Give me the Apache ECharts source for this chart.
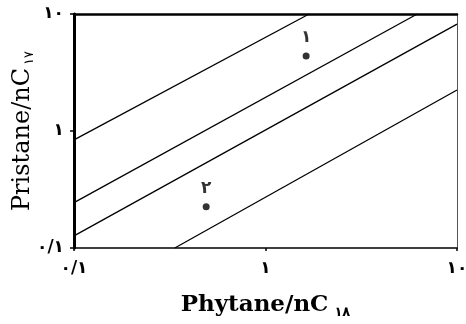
<!DOCTYPE html>
<html>
<head>
<meta charset="utf-8">
<script src="https://cdn.jsdelivr.net/npm/echarts@6/dist/echarts.min.js"></script>
<style>
  html, body { margin: 0; padding: 0; background: #fff; }
  #main { width: 466px; height: 324px; }
</style>
</head>
<body>
<div id="main"></div>
<script>
// valores (escala log nos dois eixos)
var tickValues = [0.1, 1, 10];
var tickLabels = ['۰/۱', '۱', '۱۰'];

// cada linha tem dois pontos: inicio e fim
var lineA = [[0.1, 0.84], [1.69, 10]];
var lineB = [[0.1, 0.244], [6.2, 10]];
var lineC = [[0.1, 0.127], [10, 8.2]];
var lineD = [[0.336, 0.1], [10, 2.24]];

var sampleNames = ['۱', '۲'];
var samplePoints = [[1.63, 4.38], [0.49, 0.225]];

var xTitle = 'Phytane/nC';
var xTitleSub = '۱۸';
var yTitle = 'Pristane/nC';
var yTitleSub = '۱۷';

function tickFormatter(v) {
  for (var i = 0; i < tickValues.length; i++) {
    if (Math.abs(v - tickValues[i]) < 1e-9) return tickLabels[i];
  }
  return '';
}

var xTitleRich = {
  a: { fontFamily: 'DejaVu Serif', fontWeight: 'bold', fontSize: 23, color: '#000' },
  b: { fontFamily: 'DejaVu Sans', fontWeight: 'bold', fontSize: 13, color: '#000', padding: [14, 0, 0, 6] }
};
var yTitleRich = {
  a: { fontFamily: 'DejaVu Serif', fontSize: 24, color: '#000' },
  b: { fontFamily: 'DejaVu Sans', fontSize: 13, color: '#000', padding: [14, 0, 0, 3] }
};

var labelStyle = {
  formatter: tickFormatter,
  color: '#000',
  fontFamily: 'DejaVu Sans',
  fontWeight: 'bold',
  fontSize: 17
};

function lineSeries(data) {
  return {
    type: 'line',
    data: data,
    symbol: 'none',
    lineStyle: { color: '#000', width: 1.3 },
    silent: true
  };
}

var myChart = echarts.init(document.getElementById('main'));

myChart.setOption({
  animation: false,
  grid: {
    left: 74,
    right: 9,
    top: 14,
    bottom: 76,
    outerBoundsMode: 'none'
  },
  xAxis: [
    {
      type: 'log',
      logBase: 10,
      min: 0.1,
      max: 10,
      position: 'bottom',
      name: '{a|' + xTitle + '}{b|' + xTitleSub + '}',
      nameLocation: 'middle',
      nameGap: 44,
      nameMoveOverlap: false,
      nameTextStyle: { rich: xTitleRich },
      axisLine: { lineStyle: { color: '#000', width: 1.5 } },
      axisTick: { show: true, length: 3, lineStyle: { color: '#000', width: 1.5 } },
      minorTick: { show: false },
      splitLine: { show: false },
      axisLabel: Object.assign({ margin: 12 }, labelStyle)
    },
    {
      // borda de cima
      type: 'log',
      min: 0.1,
      max: 10,
      position: 'top',
      axisLine: { lineStyle: { color: '#000', width: 2.5 } },
      axisTick: { show: false },
      axisLabel: { show: false },
      splitLine: { show: false }
    }
  ],
  yAxis: [
    {
      type: 'log',
      logBase: 10,
      min: 0.1,
      max: 10,
      position: 'left',
      name: '{a|' + yTitle + '}{b|' + yTitleSub + '}',
      nameLocation: 'middle',
      nameGap: 38,
      nameMoveOverlap: false,
      nameRotate: 90,
      nameTextStyle: { rich: yTitleRich },
      axisLine: { lineStyle: { color: '#000', width: 3 } },
      axisTick: { show: true, length: 4, lineStyle: { color: '#000', width: 1.5 } },
      splitLine: { show: false },
      axisLabel: Object.assign({ margin: 10 }, labelStyle)
    },
    {
      // borda da direita
      type: 'log',
      min: 0.1,
      max: 10,
      position: 'right',
      axisLine: { lineStyle: { color: '#555', width: 1 } },
      axisTick: { show: false },
      axisLabel: { show: false },
      splitLine: { show: false }
    }
  ],
  series: [
    lineSeries(lineA),
    lineSeries(lineB),
    lineSeries(lineC),
    lineSeries(lineD),
    {
      type: 'scatter',
      data: samplePoints,
      symbol: 'circle',
      symbolSize: 7,
      itemStyle: { color: '#000' },
      label: {
        show: true,
        position: 'top',
        distance: 6,
        color: '#000',
        fontFamily: 'DejaVu Sans',
        fontWeight: 'bold',
        fontSize: 17,
        formatter: function (p) { return sampleNames[p.dataIndex]; }
      }
    }
  ]
});
</script>
</body>
</html>
